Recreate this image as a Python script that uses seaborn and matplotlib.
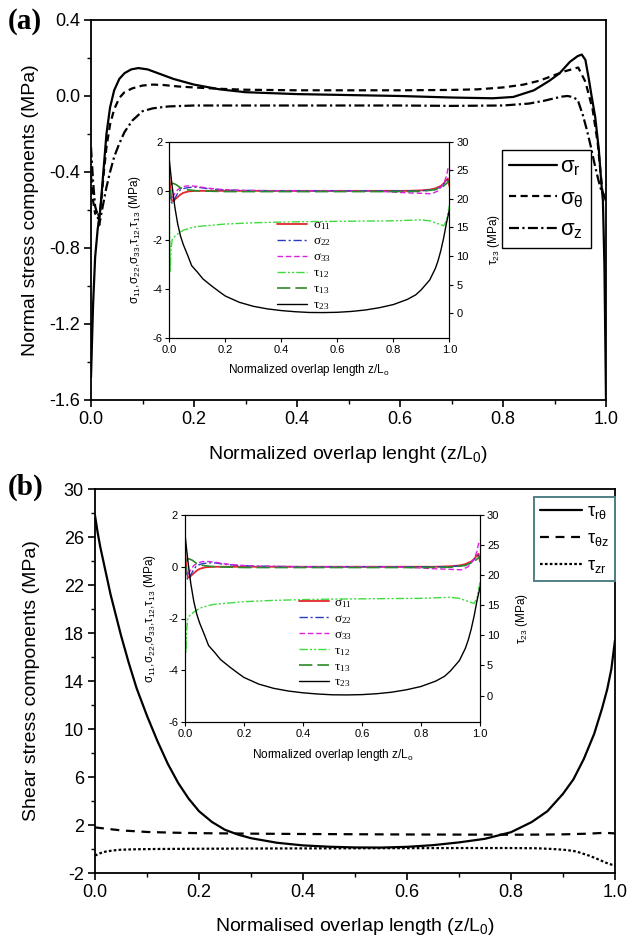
import matplotlib
matplotlib.use("Agg")
import matplotlib.pyplot as plt
import seaborn as sns
from matplotlib.ticker import MultipleLocator, FormatStrFormatter
from matplotlib.font_manager import FontProperties

# ---------------- Panel (a): normal stresses ----------------
xa_sr = [0.0, 0.004, 0.008, 0.013, 0.018, 0.024, 0.03, 0.037, 0.045, 0.055, 0.065, 0.078,
         0.092, 0.11, 0.13, 0.16, 0.2, 0.25, 0.3, 0.4, 0.5, 0.6, 0.7, 0.78, 0.82, 0.86,
         0.89, 0.91, 0.93, 0.945, 0.953, 0.96, 0.966, 0.972, 0.979, 0.986, 0.991, 0.994,
         0.997, 1.0]
sig_r = [-1.48, -1.1, -0.85, -0.7, -0.6, -0.4, -0.2, -0.06, 0.03, 0.09, 0.12, 0.14,
         0.147, 0.14, 0.12, 0.09, 0.06, 0.035, 0.02, 0.01, 0.005, 0.0, -0.008, -0.012, -0.005, 0.03,
         0.08, 0.12, 0.18, 0.21, 0.218, 0.19, 0.1, 0.0, -0.11, -0.28, -0.46, -0.55,
         -0.9, -1.6]

xa_st = [0.0, 0.004, 0.008, 0.012, 0.016, 0.02, 0.025, 0.03, 0.037, 0.045, 0.055, 0.065,
         0.08, 0.1, 0.12, 0.14, 0.17, 0.2, 0.25, 0.3, 0.4, 0.5, 0.6, 0.7, 0.75, 0.8, 0.84,
         0.87, 0.9, 0.92, 0.946, 0.96, 0.974, 0.984, 0.99, 0.993, 1.0]
sig_t = [-0.42, -0.55, -0.62, -0.6, -0.64, -0.55, -0.4, -0.27, -0.15, -0.07, -0.01, 0.02,
         0.04, 0.055, 0.06, 0.058, 0.05, 0.045, 0.038, 0.033, 0.03, 0.03, 0.03, 0.032, 0.035, 0.045, 0.06,
         0.08, 0.11, 0.13, 0.15, 0.075, -0.07, -0.25, -0.42, -0.5, -0.55]

xa_sz = [0.0, 0.004, 0.008, 0.012, 0.016, 0.02, 0.025, 0.03, 0.037, 0.045, 0.055, 0.065,
         0.08, 0.1, 0.12, 0.15, 0.2, 0.3, 0.4, 0.5, 0.6, 0.7, 0.8, 0.85, 0.88, 0.9, 0.915,
         0.925, 0.935, 0.945, 0.955, 0.963, 0.97, 0.978, 0.985, 0.99, 0.995, 1.0]
sig_z = [-0.27, -0.45, -0.58, -0.62, -0.68, -0.62, -0.55, -0.48, -0.4, -0.32, -0.25, -0.19,
         -0.13, -0.08, -0.065, -0.055, -0.05, -0.05, -0.05, -0.05, -0.05, -0.052, -0.05, -0.04, -0.025, -0.012, -0.003,
         0.0, -0.005, -0.02, -0.1, -0.18, -0.26, -0.36, -0.44, -0.49, -0.52, -0.55]

# ---------------- Panel (b): shear stresses ----------------
xb_rt = [0.0, 0.005, 0.01, 0.02, 0.03, 0.04, 0.05, 0.065, 0.08, 0.1, 0.12, 0.14, 0.16,
         0.18, 0.2, 0.225, 0.25, 0.275, 0.3, 0.35, 0.4, 0.45, 0.5, 0.55, 0.6, 0.65, 0.7, 0.75,
         0.8, 0.84, 0.87, 0.9, 0.92, 0.94, 0.96, 0.975, 0.985, 0.993, 1.0]
tau_rt = [27.8, 26.4, 25.2, 23.2, 21.2, 19.5, 17.8, 15.5, 13.4, 11.1, 9.0, 7.1, 5.5,
          4.2, 3.15, 2.25, 1.6, 1.2, 0.9, 0.52, 0.3, 0.19, 0.13, 0.12, 0.18, 0.32, 0.55, 0.85,
          1.4, 2.25, 3.15, 4.6, 5.8, 7.5, 9.6, 11.7, 13.3, 15.0, 17.4]

xb_tz = [0.0, 0.02, 0.05, 0.1, 0.15, 0.2, 0.3, 0.4, 0.5, 0.6, 0.7, 0.8, 0.85, 0.9,
         0.95, 0.98, 1.0]
tau_tz = [1.8, 1.7, 1.55, 1.42, 1.36, 1.32, 1.28, 1.25, 1.23, 1.21, 1.2, 1.19, 1.2, 1.22,
          1.28, 1.35, 1.3]

xb_zr = [0.0, 0.01, 0.02, 0.035, 0.05, 0.08, 0.12, 0.2, 0.3, 0.4, 0.5, 0.6, 0.7, 0.8,
         0.85, 0.88, 0.906, 0.925, 0.95, 0.97, 0.983, 1.0]
tau_zr = [-0.55, -0.35, -0.22, -0.12, -0.06, -0.02, 0.0, 0.02, 0.04, 0.05, 0.06, 0.07,
          0.08, 0.08, 0.06, 0.0, -0.08, -0.2, -0.55, -0.9, -1.15, -1.4]

# ---------------- Inset (same in both panels) ----------------
xi_11 = [0.0, 0.003, 0.006, 0.01, 0.015, 0.02, 0.03, 0.04, 0.05, 0.07, 0.1, 0.15, 0.2,
         0.3, 0.5, 0.7, 0.85, 0.9, 0.93, 0.95, 0.97, 0.98, 0.99, 0.995, 1.0]
s11 = [0.7, 0.2, -0.2, -0.4, -0.42, -0.35, -0.25, -0.15, -0.08, -0.02, 0.0, 0.0, 0.0,
       0.0, 0.0, 0.0, 0.0, 0.02, 0.05, 0.1, 0.2, 0.3, 0.45, 0.5, 0.2]

xi_22 = [0.0, 0.005, 0.01, 0.015, 0.02, 0.03, 0.04, 0.06, 0.08, 0.1, 0.13, 0.18, 0.25,
         0.4, 0.6, 0.8, 0.9, 0.95, 0.97, 0.99, 1.0]
s22 = [0.0, -0.4, -0.5, -0.45, -0.3, -0.1, 0.05, 0.12, 0.15, 0.15, 0.1, 0.05, 0.02,
       0.0, 0.0, 0.0, 0.0, 0.05, 0.15, 0.4, 0.5]

xi_33 = [0.0, 0.005, 0.01, 0.02, 0.03, 0.045, 0.06, 0.08, 0.1, 0.13, 0.18, 0.25, 0.4,
         0.6, 0.75, 0.85, 0.9, 0.937, 0.96, 0.98, 0.99, 0.995, 1.0]
s33 = [0.0, -0.2, -0.3, -0.1, 0.05, 0.15, 0.2, 0.2, 0.18, 0.12, 0.06, 0.02, 0.0,
       0.0, -0.02, -0.08, -0.1, -0.12, 0.0, 0.3, 0.6, 0.9, 0.8]

xi_12 = [0.0, 0.003, 0.006, 0.01, 0.015, 0.02, 0.03, 0.05, 0.08, 0.1, 0.15, 0.2, 0.3,
         0.4, 0.5, 0.6, 0.7, 0.8, 0.9, 0.93, 0.95, 0.98, 0.99, 1.0]
t12 = [-0.5, -3.3, -2.4, -2.0, -1.9, -1.85, -1.75, -1.6, -1.5, -1.45, -1.4, -1.35, -1.3,
       -1.27, -1.25, -1.24, -1.23, -1.22, -1.18, -1.22, -1.3, -1.42, -1.2, -0.6]

xi_13 = [0.0, 0.004, 0.008, 0.015, 0.025, 0.04, 0.06, 0.1, 0.2, 0.4, 0.6, 0.8, 0.9,
         0.95, 0.98, 1.0]
t13 = [-0.5, 0.0, 0.3, 0.3, 0.25, 0.12, 0.05, 0.0, -0.03, -0.03, -0.03, -0.03, -0.02,
       0.05, 0.2, 0.4]

xi_23 = [0.0, 0.005, 0.01, 0.015, 0.02, 0.03, 0.04, 0.05, 0.065, 0.08, 0.1, 0.12, 0.15,
         0.18, 0.2, 0.25, 0.3, 0.35, 0.4, 0.45, 0.5, 0.55, 0.6, 0.65, 0.7, 0.75, 0.8,
         0.85, 0.88, 0.9, 0.93, 0.95, 0.96, 0.97, 0.98, 0.99, 1.0]
t23 = [26.8, 24.5, 22.3, 20.3, 18.5, 15.6, 13.5, 12.0, 10.2, 8.3, 7.2, 6.0, 4.8,
       3.7, 3.0, 1.9, 1.2, 0.75, 0.45, 0.25, 0.12, 0.1, 0.15, 0.3, 0.55, 0.95, 1.5,
       2.4, 3.2, 4.1, 5.8, 7.8, 9.2, 11.0, 13.2, 15.8, 18.0]

inset_labels = ['σ$_{11}$', 'σ$_{22}$', 'σ$_{33}$', 'τ$_{12}$', 'τ$_{13}$', 'τ$_{23}$']

# ---------------- style ----------------
sns.set_style("ticks")
plt.rcParams['font.family'] = ['Liberation Sans', 'DejaVu Sans']
plt.rcParams['axes.unicode_minus'] = False
plt.rcParams['mathtext.default'] = 'regular'
plt.rcParams['axes.edgecolor'] = 'black'
plt.rcParams['xtick.color'] = 'black'
plt.rcParams['ytick.color'] = 'black'
plt.rcParams['text.color'] = 'black'
plt.rcParams['axes.labelcolor'] = 'black'

fig = plt.figure(figsize=(6.28, 9.39), dpi=100)


def draw(ax, x, y, **kw):
    sns.lineplot(x=x, y=y, ax=ax, estimator=None, sort=False, **kw)


def style_main(ax):
    for s in ax.spines.values():
        s.set_linewidth(1.3)
        s.set_visible(True)
    ax.tick_params(which='major', direction='out', length=5, width=1.2, labelsize=13, pad=3)
    ax.tick_params(which='minor', direction='out', length=3, width=1.0)
    ax.xaxis.set_major_locator(MultipleLocator(0.2))
    ax.xaxis.set_minor_locator(MultipleLocator(0.1))
    ax.xaxis.set_major_formatter(FormatStrFormatter('%.1f'))
    ax.set_xlim(0, 1)


def make_inset(rect, ylab_x, y2lab_x, xlab_y):
    ai = fig.add_axes(rect)
    ai2 = ai.twinx()
    lw = 1.0
    draw(ai, xi_11, s11, color='#e3262c', linewidth=1.3)
    draw(ai, xi_22, s22, color='#2a3cc4', linewidth=lw, linestyle=(0, (6, 2, 1.5, 2)))
    draw(ai, xi_33, s33, color='#e01fe0', linewidth=lw, linestyle=(0, (4, 2)))
    draw(ai, xi_12, t12, color='#3fdc3f', linewidth=lw,
         linestyle=(0, (6, 1.5, 1.5, 1.5, 1.5, 1.5)))
    draw(ai, xi_13, t13, color='#2b8a2b', linewidth=1.2, linestyle=(0, (8, 3)))
    draw(ai2, xi_23, t23, color='black', linewidth=lw)
    h = list(ai.lines) + list(ai2.lines)
    ai.set_xlim(0, 1)
    ai.set_ylim(-6, 2)
    ai2.set_ylim(-4.4, 30)
    ai.yaxis.set_major_locator(MultipleLocator(2))
    ai2.set_yticks([0, 5, 10, 15, 20, 25, 30])
    ai.xaxis.set_major_locator(MultipleLocator(0.2))
    ai.xaxis.set_major_formatter(FormatStrFormatter('%.1f'))
    for a in (ai, ai2):
        for s in a.spines.values():
            s.set_linewidth(0.8)
            s.set_visible(True)
        a.tick_params(direction='out', length=3, width=0.8, labelsize=8, pad=2)
    ai.set_xlabel('Normalized overlap length z/L$_{o}$', fontsize=8.5)
    ai.xaxis.set_label_coords(0.5, xlab_y)
    ai.set_ylabel('σ$_{11}$,σ$_{22}$,σ$_{33}$,τ$_{12}$,τ$_{13}$ (MPa)', fontsize=8.5)
    ai.yaxis.set_label_coords(ylab_x, 0.5)
    ai2.set_ylabel('τ$_{23}$ (MPa)', fontsize=8.5)
    ai2.yaxis.set_label_coords(y2lab_x, 0.5)
    ai2.legend(h, inset_labels, loc='upper left', bbox_to_anchor=(0.385, 0.605),
               frameon=False, borderaxespad=0, borderpad=0, handlelength=2.3,
               handletextpad=0.4, labelspacing=0.22,
               prop=FontProperties(family=['Liberation Serif', 'DejaVu Serif'], size=9.5))
    return ai


# ---------------- Panel (a) ----------------
axa = fig.add_axes([91 / 628, 1 - 400 / 939, 515 / 628, 380 / 939])
draw(axa, xa_sr, sig_r, color='black', linewidth=1.6)
draw(axa, xa_st, sig_t, color='black', linewidth=1.6, linestyle=(0, (3.2, 2.0)))
draw(axa, xa_sz, sig_z, color='black', linewidth=1.6, linestyle=(0, (4.5, 1.5, 1.0, 1.5)))
style_main(axa)
axa.set_ylim(-1.6, 0.4)
axa.yaxis.set_major_locator(MultipleLocator(0.4))
axa.yaxis.set_minor_locator(MultipleLocator(0.2))
axa.yaxis.set_major_formatter(FormatStrFormatter('%.1f'))
axa.set_xlabel('Normalized overlap lenght (z/L$_{0}$)', fontsize=14)
axa.xaxis.set_label_coords(0.5, -0.115)
axa.set_ylabel('Normal stress components (MPa)', fontsize=14)
axa.yaxis.set_label_coords(-0.10, 0.5)
la = axa.legend(list(axa.lines), ['σ$_{r}$', 'σ$_{θ}$', 'σ$_{z}$'], loc='upper left',
                bbox_to_anchor=(0.799, 0.658), borderaxespad=0, fancybox=False,
                edgecolor='black', framealpha=1, fontsize=16, handlelength=2.15,
                handletextpad=0.15, labelspacing=0.45, borderpad=0.3)
la.get_frame().set_linewidth(1.0)

make_inset([169.3 / 628, 1 - 338.3 / 939, 280 / 628, 196.6 / 939], -0.094, 1.13, -0.12)

# ---------------- Panel (b) ----------------
axb = fig.add_axes([95 / 628, 1 - 873 / 939, 520 / 628, 384 / 939])
draw(axb, xb_rt, tau_rt, color='black', linewidth=1.6)
draw(axb, xb_tz, tau_tz, color='black', linewidth=1.6, linestyle=(0, (4.0, 3.0)))
draw(axb, xb_zr, tau_zr, color='black', linewidth=1.6, linestyle=(0, (1.2, 1.0)))
style_main(axb)
axb.set_ylim(-2, 30)
axb.set_yticks([-2, 2, 6, 10, 14, 18, 22, 26, 30])
axb.yaxis.set_minor_locator(MultipleLocator(2))
axb.set_xlabel('Normalised overlap length (z/L$_{0}$)', fontsize=14)
axb.xaxis.set_label_coords(0.5, -0.112)
axb.set_ylabel('Shear stress components (MPa)', fontsize=14)
axb.yaxis.set_label_coords(-0.106, 0.5)
lb = axb.legend(list(axb.lines), ['τ$_{rθ}$', 'τ$_{θz}$', 'τ$_{zr}$'], loc='upper left',
                bbox_to_anchor=(0.844, 0.98), borderaxespad=0, fancybox=False,
                edgecolor='#4f7f86', framealpha=1, fontsize=13, handlelength=2.3,
                handletextpad=0.3, labelspacing=0.5, borderpad=0.35)
lb.get_frame().set_linewidth(1.4)

make_inset([185 / 628, 1 - 722 / 939, 295 / 628, 207 / 939], -0.09, 1.115, -0.12)

# panel labels
fig.text(0.012, 0.992, '(a)', fontsize=21, fontweight='bold',
         family=['Liberation Serif', 'DejaVu Serif'], va='top', ha='left')
fig.text(0.012, 0.496, '(b)', fontsize=21, fontweight='bold',
         family=['Liberation Serif', 'DejaVu Serif'], va='top', ha='left')

fig.savefig('out.png', dpi=100)
